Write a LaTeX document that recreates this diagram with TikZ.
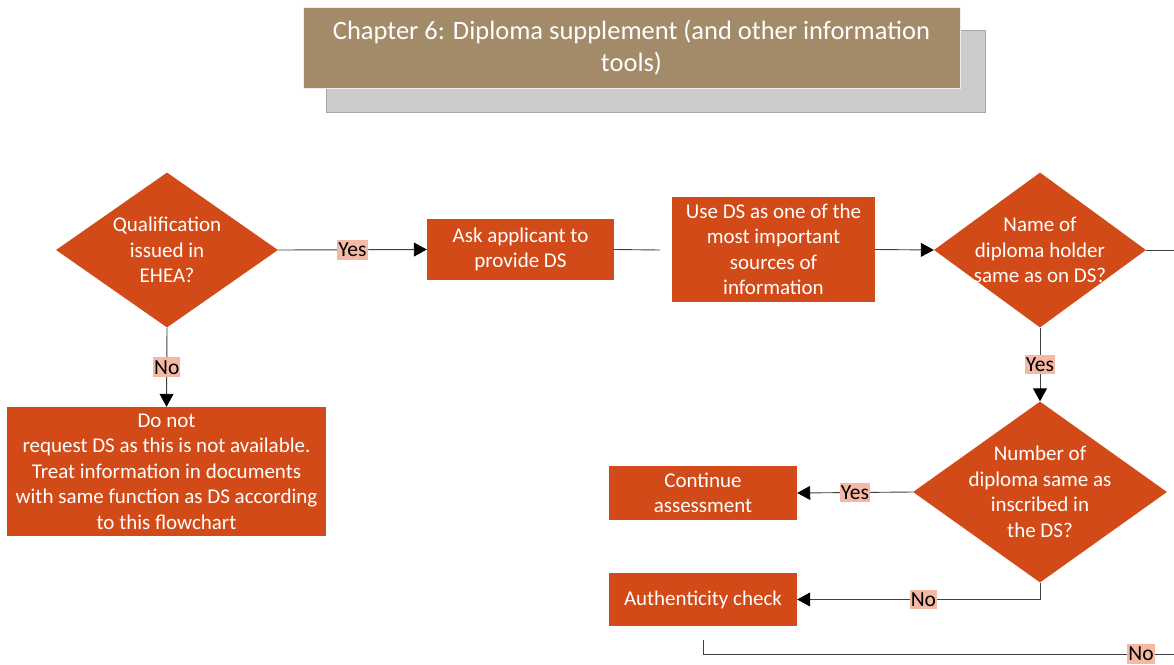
\documentclass[tikz,border=0pt]{standalone}
\usepackage{fontspec}
\setmainfont{Carlito}
\usetikzlibrary{arrows.meta,positioning,shapes.geometric}
\definecolor{rust}{HTML}{D24A18}
\definecolor{tan}{HTML}{A38B6A}
\definecolor{salmon}{HTML}{F4B8A5}
\definecolor{shadowgray}{HTML}{CCCCCC}
\definecolor{wire}{HTML}{404040}

\begin{document}
\begin{tikzpicture}[x=1pt,y=-1pt,
    decision/.style={diamond, fill=rust, inner sep=0pt},
    process/.style={rectangle, fill=rust, text=white, align=center, inner sep=0pt,
        font=\fontsize{21}{25.5}\selectfont},
    dtext/.style={text=white, align=center, font=\fontsize{21}{25.5}\selectfont},
    answer/.style={fill=salmon, inner xsep=1pt, inner ysep=3pt, text=black,
        font=\fontsize{21.5}{24}\selectfont},
    flow/.style={draw=wire, line width=0.9pt},
    arr/.style={flow, -{Triangle[length=13pt,width=14pt,color=black]}}]
    \useasboundingbox (0,0) rectangle (1174,664);

    % Title with shadow
    \node[fill=shadowgray, draw=gray!70, minimum width=659pt, minimum height=82pt] (shadow) at (655.5,71) {};
    \node[fill=tan, draw=white!85!tan, minimum width=657pt, minimum height=81pt, text=white,
        align=center, font=\fontsize{26.5}{32}\selectfont] (title) at (631.5,47.5)
        {Chapter 6: Diploma supplement (and other information\\tools)};

    % Decisions
    \node[decision, minimum width=222pt, minimum height=155pt,
        label={[dtext]center:{Qualification\\issued in\\EHEA?}}] (ehea) at (167,250) {};
    \node[decision, minimum width=212pt, minimum height=155pt,
        label={[dtext]center:{Name of\\diploma holder\\same as on DS?}}] (name) at (1040,250) {};
    \node[decision, minimum width=254pt, minimum height=181pt,
        label={[dtext]center:{Number of\\diploma same as\\inscribed in\\the DS?}}] (number) at (1040,492) {};

    % Processes
    \node[process, minimum width=187pt, minimum height=61pt] (ask) at (520.5,249.5)
        {Ask applicant to\\provide DS};
    \node[process, minimum width=203pt, minimum height=105pt] (useds) at (773.5,249.5)
        {Use DS as one of the\\most important\\sources of\\information};
    \node[process, minimum width=319pt, minimum height=129pt] (donot) at (166.5,471.5)
        {Do not\\request DS as this is not available.\\Treat information in documents\\with same function as DS according\\to this flowchart};
    \node[process, minimum width=188pt, minimum height=54pt] (continue) at (703,493)
        {Continue\\assessment};
    \node[process, minimum width=188pt, minimum height=53pt] (authentic) at (703,599.5)
        {Authenticity check};

    % Free ends
    \coordinate (askend) at (660,250);
    \coordinate (nameend) at (1174,250);
    \coordinate (authfoot) at (703,640);
    \coordinate (exitfoot) at (1174,654);

    % Connectors
    \draw[arr] (ehea.east) -- node[answer] {Yes} (ask.west);
    \draw[arr] (ehea.south) -- node[answer] {No} (donot.north);
    \draw[flow] (ask.east) -- (askend);
    \draw[arr] (useds.east) -- (name.west);
    \draw[flow] (name.east) -- (nameend);
    \draw[arr] (name.south) -- node[answer] {Yes} (number.north);
    \draw[arr] (number.west) -- node[answer] {Yes} (continue.east);
    \draw[arr] (number.south) |- node[answer, pos=0.74] {No} (authentic.east);
    \draw[flow] (authfoot) |- node[answer, pos=0.965] {No} (exitfoot);
\end{tikzpicture}
\end{document}
